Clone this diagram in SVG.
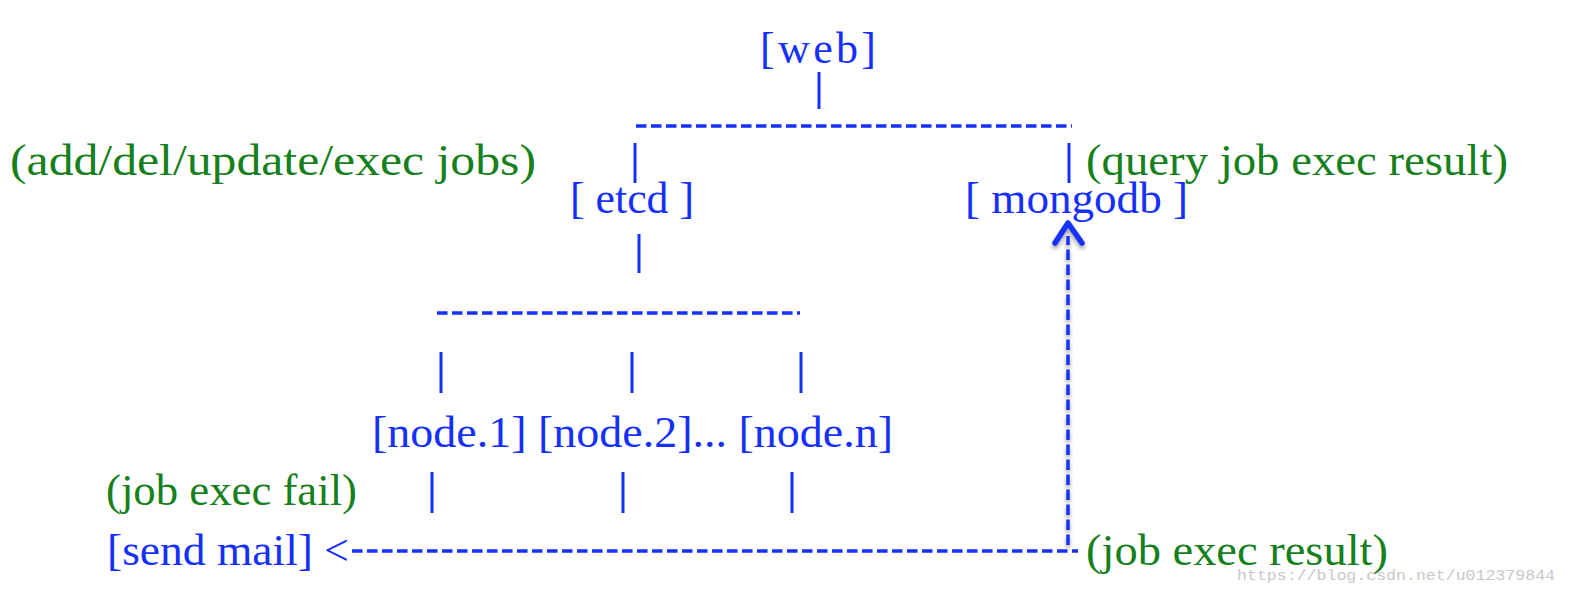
<svg xmlns="http://www.w3.org/2000/svg" width="1570" height="594" viewBox="0 0 1570 594">
<style>
.b{fill:#1530fa;font-family:"Liberation Serif","DejaVu Serif",serif;font-size:44px}
.g{fill:#16801c;font-family:"Liberation Serif","DejaVu Serif",serif;font-size:44px}
.t{stroke:#1530fa;stroke-width:3;fill:none}
.d{stroke:#1530fa;stroke-width:3.5;fill:none;stroke-dasharray:10.5,4.5}
.w{fill:#c8c8c8;font-family:"Liberation Mono","DejaVu Sans Mono",monospace;font-size:15px}
</style>
<defs>
<filter id="sh" x="-50%" y="-50%" width="200%" height="200%">
<feGaussianBlur in="SourceAlpha" stdDeviation="2"/>
<feOffset dx="0" dy="3" result="o"/>
<feComponentTransfer><feFuncA type="linear" slope="0.4"/></feComponentTransfer>
<feMerge><feMergeNode/><feMergeNode in="SourceGraphic"/></feMerge>
</filter>
</defs>
<rect width="1570" height="594" fill="#ffffff"/>
<g id="web"><text class="b" x="760" y="63" textLength="116" lengthAdjust="spacing">[web]</text></g>
<g id="etcd"><text class="b" x="570" y="213" textLength="124" lengthAdjust="spacingAndGlyphs">[ etcd ]</text></g>
<g id="mongodb"><text class="b" x="965" y="213" textLength="223" lengthAdjust="spacingAndGlyphs">[ mongodb ]</text></g>
<g id="nodes"><text class="b" x="372" y="447" textLength="521" lengthAdjust="spacingAndGlyphs">[node.1] [node.2]... [node.n]</text></g>
<g id="sendmail"><text class="b" x="107" y="565" textLength="206" lengthAdjust="spacingAndGlyphs">[send mail]</text></g>
<g id="labels">
<text class="g" x="10" y="175" textLength="526" lengthAdjust="spacingAndGlyphs">(add/del/update/exec jobs)</text>
<text class="g" x="1086" y="175" textLength="422" lengthAdjust="spacingAndGlyphs">(query job exec result)</text>
<text class="g" x="106" y="505" textLength="251" lengthAdjust="spacingAndGlyphs">(job exec fail)</text>
<text class="g" x="1086" y="565" textLength="302" lengthAdjust="spacingAndGlyphs">(job exec result)</text>
</g>
<g id="connectors">
<line class="t" x1="819" y1="72" x2="819" y2="109"/>
<line class="d" x1="636" y1="126" x2="1072" y2="126"/>
<line class="t" x1="635" y1="143" x2="635" y2="183"/>
<line class="t" x1="1069" y1="143" x2="1069" y2="183"/>
<line class="t" x1="639" y1="234" x2="639" y2="273"/>
<line class="d" x1="437" y1="313" x2="800" y2="313"/>
<line class="t" x1="441" y1="352" x2="441" y2="393"/>
<line class="t" x1="632" y1="352" x2="632" y2="393"/>
<line class="t" x1="801" y1="352" x2="801" y2="393"/>
<line class="t" x1="432" y1="472" x2="432" y2="513"/>
<line class="t" x1="623" y1="472" x2="623" y2="513"/>
<line class="t" x1="792" y1="472" x2="792" y2="513"/>
<text class="b" x="324" y="565">&lt;</text>
<line class="d" x1="352" y1="551" x2="1078" y2="551"/>
<g filter="url(#sh)">
<line class="d" x1="1068" y1="545" x2="1068" y2="236"/>
<polyline points="1055,243 1068,223 1082,243" fill="none" stroke="#1530fa" stroke-width="5.5" stroke-linecap="round" stroke-linejoin="round"/>
</g>
</g>
<text class="w" x="1237" y="580" textLength="318" lengthAdjust="spacingAndGlyphs">https://blog.csdn.net/u012379844</text>
</svg>
